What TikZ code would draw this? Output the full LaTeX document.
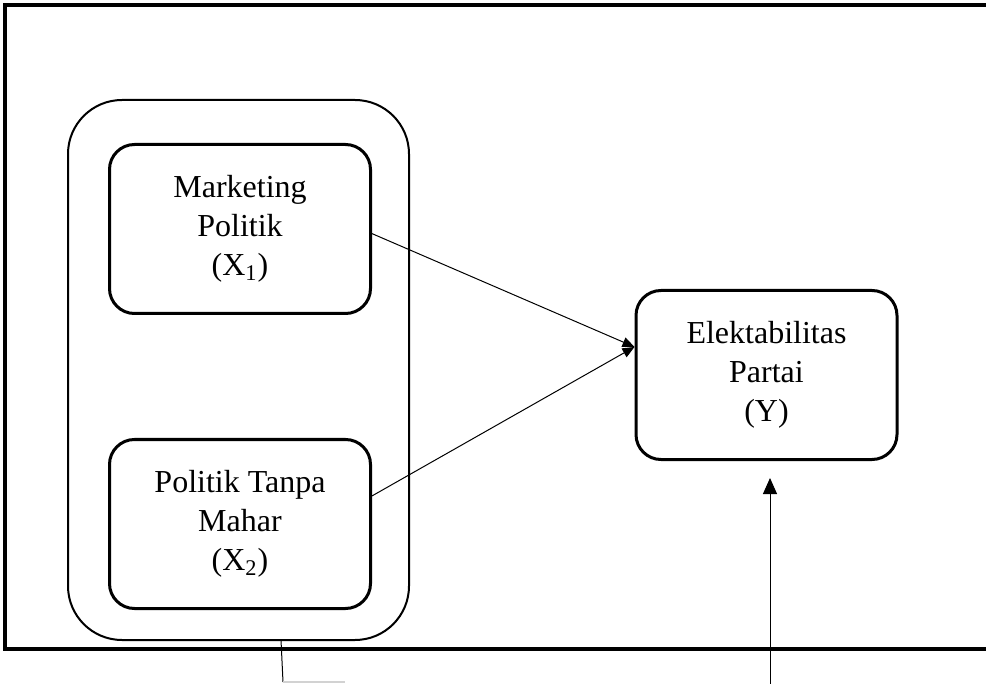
\documentclass[tikz,border=0pt]{standalone}
\usepackage{fontspec}
\setmainfont{Liberation Serif}
\usetikzlibrary{arrows.meta}
\begin{document}
\begin{tikzpicture}[x=0.5pt,y=-0.5pt,
  box/.style={draw,line width=1.5pt,rounded corners=12.5pt,minimum width=130.5pt,minimum height=84.5pt,align=center,inner sep=0pt,font=\fontsize{16}{19.5}\selectfont},
  group/.style={draw,line width=1pt,rounded corners=27pt,minimum width=170.5pt,minimum height=270pt,inner sep=0pt},
  conn/.style={line width=0.5pt},
  tip/.style={-{Triangle[width=5pt,length=6pt]}}]
\useasboundingbox (0,0) rectangle (986,684);
\fill[white] (0,0) rectangle (986,684);
% outer frame (right side open)
\draw[line width=2pt] (986,5) -- (5,5) -- (5,649) -- (986,649);
\node[group] (grp) at (238.5,370) {};
\node[box] (x1) at (240,229) {Marketing\\Politik\\(X\textsubscript{1})};
\node[box] (x2) at (240,524) {Politik Tanpa\\Mahar\\(X\textsubscript{2})};
\node[box] (y) at (766.5,375) {Elektabilitas\\Partai\\(Y)};
\draw[conn,tip] (x1.-2) -- (y.168);
\draw[conn,tip] (x2.12) -- (y.168);
\coordinate (vin) at (770,684);
\draw[conn,-{Triangle[width=7pt,length=8pt]},shorten >=8.5pt] (vin) -- (y.south -| vin);
\coordinate (b1) at (283,682);
\coordinate (b2) at (345,682);
\draw[conn] (281,640) -- (b1);
\draw[line width=1pt,gray!35] (b1) -- (b2);
\end{tikzpicture}
\end{document}
